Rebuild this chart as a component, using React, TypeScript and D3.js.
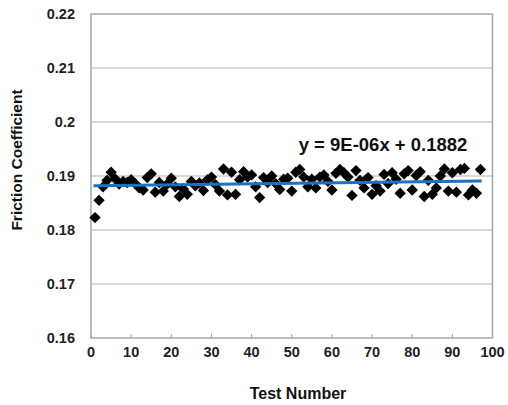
import React from "react";
import * as d3 from "d3";

const testNumbers: number[] = Array.from({ length: 97 }, (_, i) => i + 1);
const friction: number[] = [
  0.1823, 0.1855, 0.188, 0.1892, 0.1907, 0.1895, 0.1885, 0.189, 0.1888, 0.1893,
  0.1886, 0.1878, 0.1874, 0.1897, 0.1904, 0.187, 0.1888, 0.1872, 0.1885, 0.1896,
  0.188, 0.1862, 0.1876, 0.1866, 0.189, 0.1882, 0.1887, 0.1873, 0.1893, 0.1898,
  0.1884, 0.1872, 0.1913, 0.1865, 0.1907, 0.1866, 0.1893, 0.1908, 0.1898, 0.1902,
  0.188, 0.186, 0.1897, 0.1888, 0.19, 0.1886, 0.1875, 0.1894, 0.1896, 0.1872,
  0.1907, 0.1912, 0.1898, 0.188, 0.1894, 0.1878, 0.1898, 0.1902, 0.189, 0.1874,
  0.1905, 0.1912, 0.1906, 0.1898, 0.1864, 0.191, 0.1892, 0.1878, 0.1897, 0.1866,
  0.1882, 0.1872, 0.1903, 0.1886, 0.1906, 0.1894, 0.1868, 0.1904, 0.191, 0.1874,
  0.1901, 0.1908, 0.1862, 0.1892, 0.1866, 0.1878, 0.19, 0.1913, 0.1872, 0.1906,
  0.187, 0.1912, 0.1914, 0.1865, 0.1874, 0.1868, 0.1912,
];
const xTicks: number[] = [0, 10, 20, 30, 40, 50, 60, 70, 80, 90, 100];
const yTicks: number[] = [0.16, 0.17, 0.18, 0.19, 0.2, 0.21, 0.22];
const yTickLabels: string[] = ["0.16", "0.17", "0.18", "0.19", "0.2", "0.21", "0.22"];
const trendSlope = 9e-6;
const trendIntercept = 0.1882;
const equationLabel = "y = 9E-06x + 0.1882";

export default function App() {
  const W = 508, H = 405;
  const left = 91, right = 492.5, top = 14, bottom = 338;
  const x = d3.scaleLinear().domain([0, 100]).range([left, right]);
  const y = d3.scaleLinear().domain([0.16, 0.22]).range([bottom, top]);
  const font = "'Liberation Sans', Arial, sans-serif";
  const diamond = d3.symbol().type(d3.symbolDiamond2).size(82)();
  const x0 = testNumbers[0], x1 = testNumbers[testNumbers.length - 1];
  const trend = d3.line<number>()
    .x((d) => x(d))
    .y((d) => y(trendSlope * d + trendIntercept))([x0 - 0.4, x1 + 0.3]);

  return (
    <svg width={W} height={H} style={{ position: "absolute", left: 0, top: 0 }}>
      <rect width={W} height={H} fill="#fff" />
      {yTicks.slice(1, -1).map((t) => (
        <line key={t} x1={left} x2={right} y1={y(t)} y2={y(t)} stroke="#b3b3b3" strokeWidth={1} />
      ))}
      <rect x={left} y={top} width={right - left} height={bottom - top} fill="none" stroke="#a6a6a6" strokeWidth={1.5} />
      {xTicks.map((t) => (
        <line key={t} x1={x(t)} x2={x(t)} y1={bottom} y2={bottom - 4} stroke="#a6a6a6" strokeWidth={1} />
      ))}
      {yTicks.map((t, i) => (
        <text key={t} x={75} y={y(t)} dy="0.35em" textAnchor="end" fontFamily={font} fontWeight="bold" fontSize={14.5} fill="#222">
          {yTickLabels[i]}
        </text>
      ))}
      {xTicks.map((t) => (
        <text key={t} x={x(t)} y={352} dy="0.35em" textAnchor="middle" fontFamily={font} fontWeight="bold" fontSize={14.5} fill="#222">
          {t}
        </text>
      ))}
      {testNumbers.map((n, i) => (
        <path key={n} d={diamond} transform={`translate(${x(n)},${y(friction[i])})`} fill="#000" />
      ))}
      <path d={trend || ""} stroke="#1a72c0" strokeWidth={3} fill="none" />
      <text x={383} y={151} textAnchor="middle" fontFamily={font} fontWeight="bold" fontSize={18.5} fill="#111">
        {equationLabel}
      </text>
      <text x={298} y={393} dy="0.35em" textAnchor="middle" fontFamily={font} fontWeight="bold" fontSize={16} fill="#111">
        Test Number
      </text>
      <text transform={`translate(17,160) rotate(-90)`} dy="0.35em" textAnchor="middle" fontFamily={font} fontWeight="bold" fontSize={15.5} fill="#111">
        Friction Coefficient
      </text>
    </svg>
  );
}
